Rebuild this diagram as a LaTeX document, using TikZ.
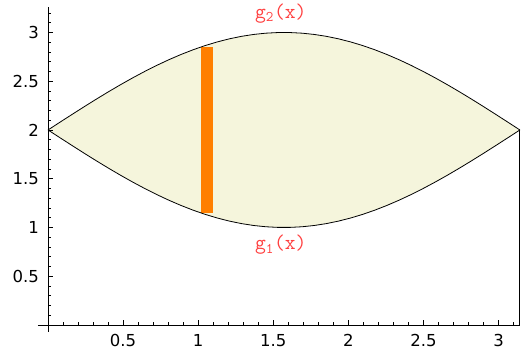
\documentclass[tikz,border=0pt]{standalone}
\usepackage{fontspec}
\setmainfont{DejaVu Sans}
\usepackage{xcolor}
\usetikzlibrary{positioning}
\definecolor{RegionBeige}{RGB}{245,245,220}
\definecolor{StripOrange}{RGB}{255,127,0}
\definecolor{LabelRed}{RGB}{255,64,64}
\tikzset{
  curve/.style={black, line width=0.8pt},
  axisline/.style={black, line width=0.9pt},
  ticklabel/.style={inner sep=0pt, font=\fontsize{16.5}{18}\selectfont},
  funclabel/.style={inner sep=0pt, text=LabelRed, font=\ttfamily\fontsize{21}{23}\selectfont},
}

\begin{document}
\begin{tikzpicture}[x=150.2pt, y=97.5pt]
  \useasboundingbox (-0.3196,-0.318) rectangle (3.209,3.333);
  % area between g1 and g2
  \fill[RegionBeige] plot[domain=0:pi, samples=40] (\x,{2+sin(\x r)})
    -- plot[domain=pi:0, samples=40] (\x,{2-sin(\x r)}) -- cycle;
  % slice
  \fill[StripOrange] (1.02,{2-sin(1.02 r)}) rectangle (1.10,{2+sin(1.02 r)});
  \draw[curve] plot[domain=0:pi, samples=40] (\x,{2+sin(\x r)});
  \draw[curve] plot[domain=0:pi, samples=40] (\x,{2-sin(\x r)});
  \draw[curve] (pi,2) -- (pi,0);
  % axes
  \draw[axisline] (-0.0666,0) -- (pi,0);
  \draw[axisline] (0,-0.07) -- (0,3.26);
  \foreach \t in {1,...,31}
    \draw[black, line width=0.6pt] (\t/10,0) -- ++(0,3pt);
  \foreach \t in {1,...,32}
    \draw[black, line width=0.6pt] (0,\t/10) -- ++(3pt,0);
  \foreach \t in {0.5,1,1.5,2,2.5,3} {
    \draw[black, line width=0.6pt] (\t,0) -- ++(0,5pt);
    \draw[black, line width=0.6pt] (0,\t) -- ++(5pt,0);
  }
  \foreach \t/\lab in {0.5/0.5,1/1,1.5/1.5,2/2,2.5/2.5,3/3} {
    \node[ticklabel, anchor=north] (xl\lab) at ([yshift=-9pt]\t,0) {\lab};
    \node[ticklabel, anchor=east] (yl\lab) at ([xshift=-9pt]0,\t) {\lab};
  }
  % labels
  \node[funclabel] (gtop) at (1.55,3.19) {g\textsubscript{2}(x)};
  \node[funclabel] (gbot) at (1.55,0.82) {g\textsubscript{1}(x)};
\end{tikzpicture}
\end{document}
